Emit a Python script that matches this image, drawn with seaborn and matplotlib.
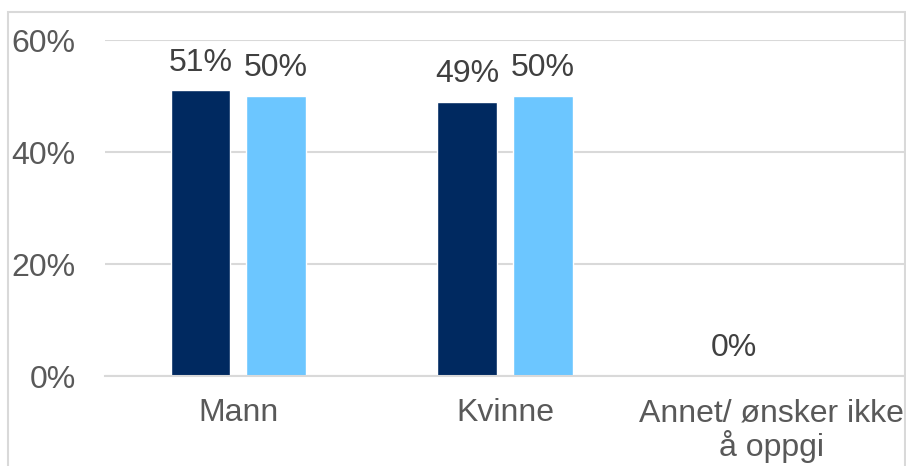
import numpy as np
import pandas as pd
import matplotlib
matplotlib.use("Agg")
import matplotlib.pyplot as plt
import seaborn as sns
from matplotlib.patches import Rectangle

categories = ["Mann", "Kvinne", "Annet/ ønsker ikke\nå oppgi"]
series_names = ["Serie 1", "Serie 2"]
series1 = [51, 49, 0]
series2 = [50, 50, np.nan]
yticks = [0, 20, 40, 60]
colors = ["#002960", "#6CC6FF"]

df = pd.DataFrame({
    "cat": categories * 2,
    "series": [series_names[0]] * 3 + [series_names[1]] * 3,
    "value": series1 + series2,
})

sns.set_theme(style="white")
plt.rcParams["font.family"] = ["Liberation Sans", "DejaVu Sans"]

fig = plt.figure(figsize=(9.06, 4.66), dpi=100)
ax = fig.add_axes([105 / 906, 1 - 376 / 466, 800 / 906, 336 / 466])

sns.barplot(data=df, x="cat", y="value", hue="series", order=categories,
            hue_order=series_names, palette=colors, width=0.568, gap=0.21,
            saturation=1, legend=False, ax=ax, errorbar=None)

ax.set_ylim(0, 60)
ax.set_xlim(-0.5, 2.5)
ax.set_yticks(yticks)
ax.set_yticklabels([f"{v}%" for v in yticks])
ax.yaxis.grid(True, color="#d9d9d9", linewidth=1.5)
ax.set_axisbelow(True)
for s in ["top", "right", "left"]:
    ax.spines[s].set_visible(False)
ax.spines["bottom"].set_color("#d9d9d9")
ax.spines["bottom"].set_linewidth(1.5)
ax.tick_params(axis="y", length=0, pad=21, labelsize=23, labelcolor="#595959")
ax.tick_params(axis="x", length=0, pad=16, labelsize=23, labelcolor="#595959")
ax.set_xlabel("")
ax.set_ylabel("")
for lbl in ax.get_xticklabels():
    lbl.set_linespacing(1.05)

for cont in ax.containers:
    for bar in cont:
        h = bar.get_height()
        if np.isnan(h):
            continue
        ax.annotate(f"{h:.0f}%", (bar.get_x() + bar.get_width() / 2, h),
                    xytext=(0, 9), textcoords="offset points",
                    ha="center", va="bottom", fontsize=23, color="#404040")

fig.patches.append(Rectangle((8 / 906, -0.1), 897 / 906, 1.1 - 12 / 466,
                             transform=fig.transFigure, fill=False,
                             edgecolor="#d9d9d9", linewidth=1.5))

fig.savefig("out.png", dpi=100)
